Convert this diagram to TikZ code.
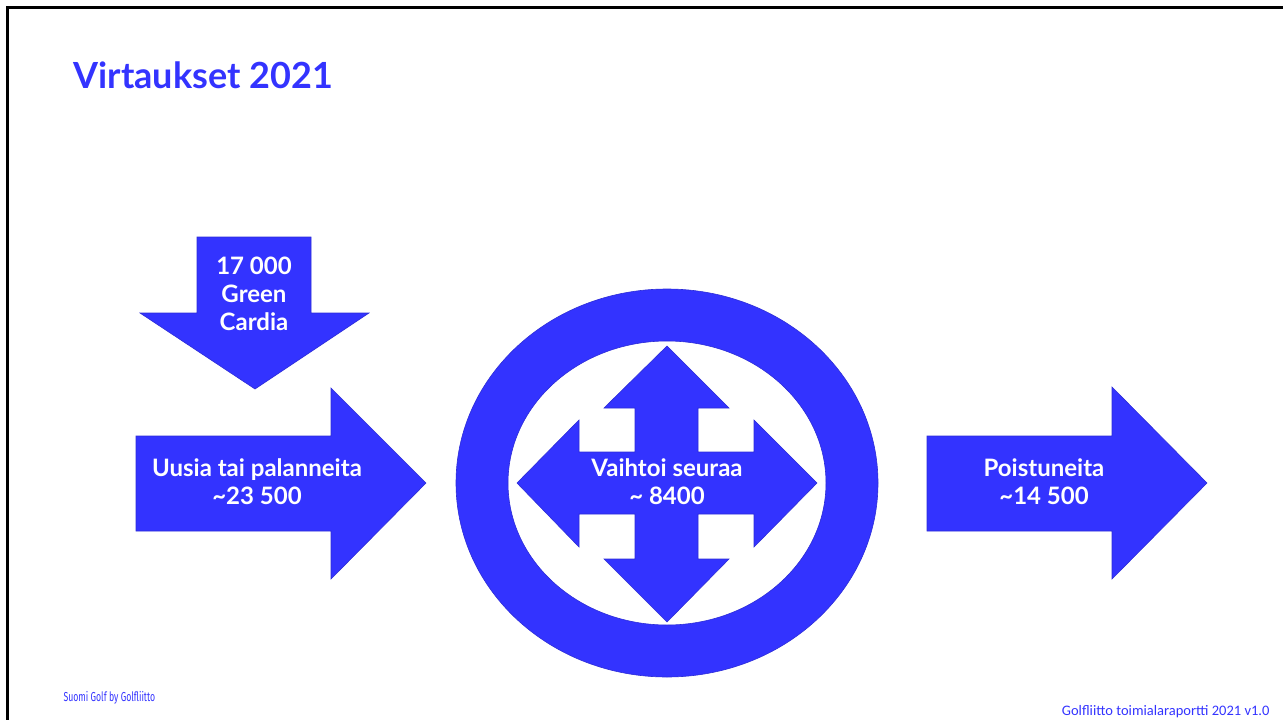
\documentclass[tikz,border=0pt]{standalone}
\usepackage{fontspec}
\setmainfont{Lato}
\newfontfamily\reportfont{Carlito}
\newfontfamily\brandfont{Fira Sans}
\usetikzlibrary{positioning}
\definecolor{golfblue}{RGB}{51,51,255}
\definecolor{golfedge}{RGB}{45,45,215}

\begin{document}
\begin{tikzpicture}[
  x=1pt, y=-1pt,
  flow/.style={fill=golfblue, draw=golfedge, line width=0.6pt, line join=miter},
  flowtext/.style={text=white, font=\bfseries\fontsize{24}{28}\selectfont, align=center}
]
\useasboundingbox (0,0) rectangle (1283,720);

% frame
\draw[line width=2.5pt] (1283,7.5) -- (7.5,7.5) -- (7.5,720);

\node[anchor=west, text=golfblue, font=\bfseries\fontsize{36}{40}\selectfont] (title) at (70,75) {Virtaukset 2021};

% arrows
\path[flow] (197,237) -- (311,237) -- (311,313) -- (369,313) -- (255,389) -- (140,313) -- (197,313) -- cycle;
\path[flow] (136,436) -- (331,436) -- (331,388) -- (426,483) -- (331,579) -- (331,531) -- (136,531) -- cycle;
\path[flow] (927,436) -- (1112,436) -- (1112,387) -- (1207,483) -- (1112,579) -- (1112,531) -- (927,531) -- cycle;

% ring and cross
\path[flow, even odd rule] (667,483) ellipse [x radius=211pt, y radius=194pt]
  (667,483) ellipse [x radius=159pt, y radius=142pt];
\path[flow] (667,346) -- (729,408) -- (698,408) -- (698,452) -- (754,452) -- (754,420)
  -- (817,483) -- (754,547) -- (754,514) -- (698,514) -- (698,559) -- (729,559)
  -- (667,622) -- (604,559) -- (635,559) -- (635,514) -- (579,514) -- (579,547)
  -- (517,483) -- (579,420) -- (579,452) -- (635,452) -- (635,408) -- (604,408) -- cycle;

\node[flowtext] (green) at (254,294) {17 000\\Green\\Cardia};
\node[flowtext] (inflow) at (257,482) {Uusia tai palanneita\\\textasciitilde23 500};
\node[flowtext] (swap) at (667,482) {Vaihtoi seuraa\\\textasciitilde{} 8400};
\node[flowtext] (outflow) at (1044,482) {Poistuneita\\\textasciitilde14 500};

% footer
\node[anchor=west, text=golfblue, font=\brandfont\fontsize{13}{14}\selectfont] (brand) at (60,698)
  {\scalebox{0.67}[1]{Suomi Golf by Golfliitto}};
\node[anchor=east, text=golfblue, font=\reportfont\fontsize{14.5}{16}\selectfont] (report) at (1273,712)
  {Golfliitto toimialaraportti 2021 v1.0};
\end{tikzpicture}
\end{document}
